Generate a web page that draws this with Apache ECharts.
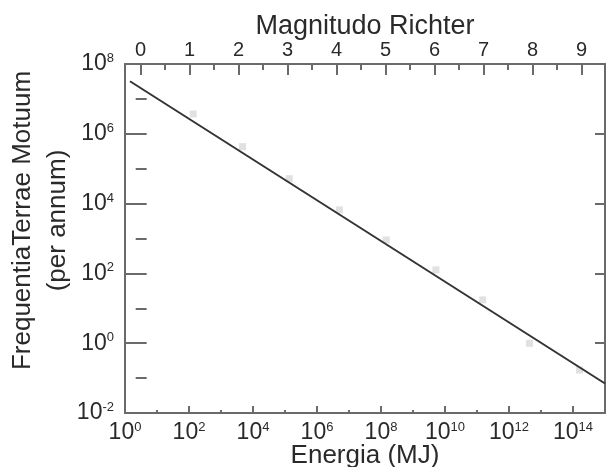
<!DOCTYPE html>
<html>
<head>
<meta charset="utf-8">
<script src="https://cdn.jsdelivr.net/npm/echarts@6/dist/echarts.min.js"></script>
<style>
html,body{margin:0;padding:0;background:#fff;}
#chart{width:607px;height:467px;}
</style>
</head>
<body>
<div id="chart"></div>
<script>
// ---- data ----
const energyMJ     = [1.35e2, 4.7e3, 1.35e5, 5.0e6, 1.45e8, 5.2e9, 1.5e11, 4.4e12, 1.6e14];
const freqPerAnnum = [3.7e6, 4.3e5, 5.2e4, 6.6e3, 910, 126, 17.4, 0.99, 0.17];
const fitEnergy    = [1.43, 1e15];
const fitFreq      = [3.2e7, 0.07];
const richterTicks      = [0, 1, 2, 3, 4, 5, 6, 7, 8, 9];
const richterMinorTicks = [0.5, 1.5, 2.5, 3.5, 4.5, 5.5, 6.5, 7.5, 8.5];
const xTitle = 'Energia (MJ)';
const topTitle = 'Magnitudo Richter';
const yTitle = 'FrequentiaTerrae Motuum\n(per annum)';

const FONT = '"Liberation Sans", Arial, sans-serif';
const TXT = '#2a2a2a';
const AX = '#6a6a6a';

function powLabel(v) {
  const e = Math.round(Math.log10(v));
  return '{b|10}{s|' + e + '}';
}
const richPow = {
  b: { fontSize: 23, fontFamily: FONT, color: TXT, lineHeight: 24 },
  s: { fontSize: 13, fontFamily: FONT, color: TXT, verticalAlign: 'top', lineHeight: 13 }
};

const chart = echarts.init(document.getElementById('chart'), null, { renderer: 'canvas' });
chart.setOption({
  animation: false,
  backgroundColor: '#fff',
  grid: { left: 125, right: 2, top: 64, bottom: 54, containLabel: false, outerBoundsMode: 'none' },
  xAxis: [
    { // bottom major
      type: 'log', logBase: 10, min: 1, max: 1e15, interval: 2, position: 'bottom',
      name: xTitle, nameLocation: 'middle', nameGap: 30, nameMoveOverlap: false,
      nameTextStyle: { fontSize: 26, fontFamily: FONT, color: TXT, lineHeight: 26 },
      axisLine: { show: true, onZero: false, lineStyle: { color: AX, width: 2 } },
      axisTick: { show: true, inside: true, length: 7, lineStyle: { color: AX, width: 2 } },
      axisLabel: { show: true, margin: 8, showMaxLabel: false, formatter: powLabel, rich: richPow },
      splitLine: { show: false }
    },
    { // bottom minor
      type: 'log', logBase: 10, min: 1, max: 1e15, interval: 1, position: 'bottom',
      axisLine: { show: false },
      axisTick: { show: true, inside: true, length: 3, lineStyle: { color: AX, width: 2 } },
      axisLabel: { show: false },
      splitLine: { show: false }
    },
    { // top Richter major
      type: 'value', min: -0.32, max: 9.48, position: 'top',
      name: topTitle, nameLocation: 'middle', nameGap: 24, nameMoveOverlap: false,
      nameTextStyle: { fontSize: 27, fontFamily: FONT, color: TXT, lineHeight: 26 },
      axisLine: { show: true, onZero: false, lineStyle: { color: AX, width: 2 } },
      axisTick: { show: true, inside: true, length: 11, customValues: richterTicks, lineStyle: { color: AX, width: 2 } },
      axisLabel: { show: true, margin: 4, customValues: richterTicks, fontSize: 20, fontFamily: FONT, color: TXT },
      splitLine: { show: false }
    },
    { // top Richter minor
      type: 'value', min: -0.32, max: 9.48, position: 'top',
      axisLine: { show: false },
      axisTick: { show: true, inside: true, length: 6, customValues: richterMinorTicks, lineStyle: { color: AX, width: 2 } },
      axisLabel: { show: false },
      splitLine: { show: false }
    }
  ],
  yAxis: [
    { // left major
      type: 'log', logBase: 10, min: 0.01, max: 1e8, interval: 2, position: 'left',
      name: yTitle, nameLocation: 'middle', nameGap: 50, nameRotate: 90, nameMoveOverlap: false,
      nameTextStyle: { fontSize: 26, fontFamily: FONT, color: TXT, lineHeight: 35, padding: [0, 0, 0, 36] },
      axisLine: { show: true, onZero: false, lineStyle: { color: AX, width: 2 } },
      axisTick: { show: true, inside: true, length: 12, lineStyle: { color: AX, width: 2 } },
      axisLabel: { show: true, margin: 11, formatter: powLabel, rich: richPow },
      splitLine: { show: false }
    },
    { // left minor
      type: 'log', logBase: 10, min: 0.01, max: 1e8, interval: 1, position: 'left',
      axisLine: { show: false },
      axisTick: { show: true, inside: true, length: 6, lineStyle: { color: AX, width: 2 } },
      axisLabel: { show: false },
      splitLine: { show: false }
    },
    { // right major
      type: 'log', logBase: 10, min: 0.01, max: 1e8, interval: 2, position: 'right',
      axisLine: { show: true, onZero: false, lineStyle: { color: AX, width: 2 } },
      axisTick: { show: true, inside: true, length: 10, lineStyle: { color: AX, width: 2 } },
      axisLabel: { show: false },
      splitLine: { show: false }
    },
    { // right minor
      type: 'log', logBase: 10, min: 0.01, max: 1e8, interval: 1, position: 'right',
      axisLine: { show: false },
      axisTick: { show: true, inside: true, length: 5, lineStyle: { color: AX, width: 2 } },
      axisLabel: { show: false },
      splitLine: { show: false }
    }
  ],
  series: [
    {
      type: 'scatter', xAxisIndex: 0, yAxisIndex: 0, z: 2,
      symbol: 'rect', symbolSize: 7,
      itemStyle: { color: '#dadada' },
      data: energyMJ.map((e, i) => [e, freqPerAnnum[i]])
    },
    {
      type: 'line', xAxisIndex: 0, yAxisIndex: 0, z: 3,
      showSymbol: false, symbol: 'none',
      lineStyle: { color: '#333', width: 2 },
      data: fitEnergy.map((e, i) => [e, fitFreq[i]])
    }
  ]
});
</script>
</body>
</html>
